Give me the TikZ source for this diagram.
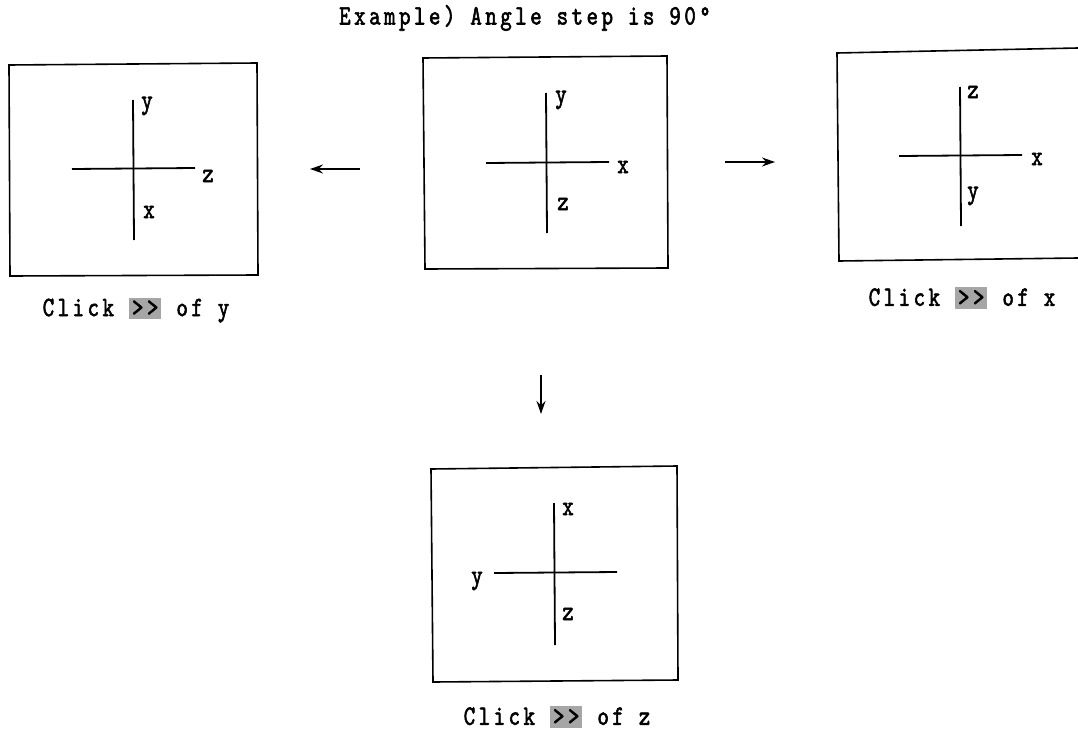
\documentclass[tikz,border=0pt]{standalone}
\usepackage{fontspec}
\usetikzlibrary{arrows.meta}
\newfontfamily\lmm[FakeStretch=0.78,LetterSpace=12.5,FakeBold=2]{lmmono10-regular.otf}
\newcommand{\tmono}{\lmm\fontsize{28}{28}\selectfont}
\begin{document}
\begin{tikzpicture}[x=1pt,y=-1pt,
  frame/.style={line width=1.6pt},
  axis/.style={line width=1.8pt},
  lbl/.style={font=\tmono, inner sep=0pt},
  captxt/.style={font=\tmono, inner sep=0pt},
  arr/.style={line width=1.7pt,-{Stealth[length=13pt,width=9pt]}}]
\useasboundingbox (0,0) rectangle (1078,733);
\newcommand{\chev}{{\fboxsep=3pt\colorbox{black!35}{>>}}}
% title
\node[captxt] (title) at (525,18) {Example) Angle step is 90°};
% left box
\draw[frame] (9,65) -- (257,63) -- (258,275) -- (10,276) -- cycle;
\draw[axis] (133,100) -- (134,240);
\draw[axis] (72,169) -- (195,168);
\node[lbl] (ly) at (147,106) {y};
\node[lbl] (lz) at (208,176) {z};
\node[lbl] (lx) at (149,212) {x};
\node[captxt] (cly) at (136,310) {Click \chev{} of y};
% middle box
\draw[frame] (423,58) -- (667,56) -- (668,268) -- (425,269) -- cycle;
\draw[axis] (546,93) -- (547,233);
\draw[axis] (486,163) -- (609,162);
\node[lbl] (my) at (561,100) {y};
\node[lbl] (mx) at (623,167) {x};
\node[lbl] (mz) at (563,204) {z};
% right box
\draw[frame] (1078,48) -- (837,53) -- (839,261) -- (1078,258);
\draw[axis] (960,87) -- (961,226);
\draw[axis] (899,156) -- (1022,155);
\node[lbl] (rz) at (973,92) {z};
\node[lbl] (rx) at (1037,159) {x};
\node[lbl] (ry) at (973,196) {y};
\node[captxt] (clx) at (962,298) {Click \chev{} of x};
% bottom box
\draw[frame] (431,469) -- (677,466) -- (678,680) -- (433,682) -- cycle;
\draw[axis] (554,503) -- (555,645);
\draw[axis] (494,573) -- (617,572);
\node[lbl] (bx) at (568,509) {x};
\node[lbl] (by) at (477,581) {y};
\node[lbl] (bz) at (568,614) {z};
\node[captxt] (clz) at (557,717) {Click \chev{} of z};
% arrows
\coordinate (a1s) at (360,169);
\coordinate (a1e) at (310,169);
\coordinate (a2s) at (725,162);
\coordinate (a2e) at (775,162);
\coordinate (a3s) at (541,375);
\coordinate (a3e) at (541,414);
\draw[arr] (a1s) -- (a1e);
\draw[arr] (a2s) -- (a2e);
\draw[arr] (a3s) -- (a3e);
\end{tikzpicture}
\end{document}
